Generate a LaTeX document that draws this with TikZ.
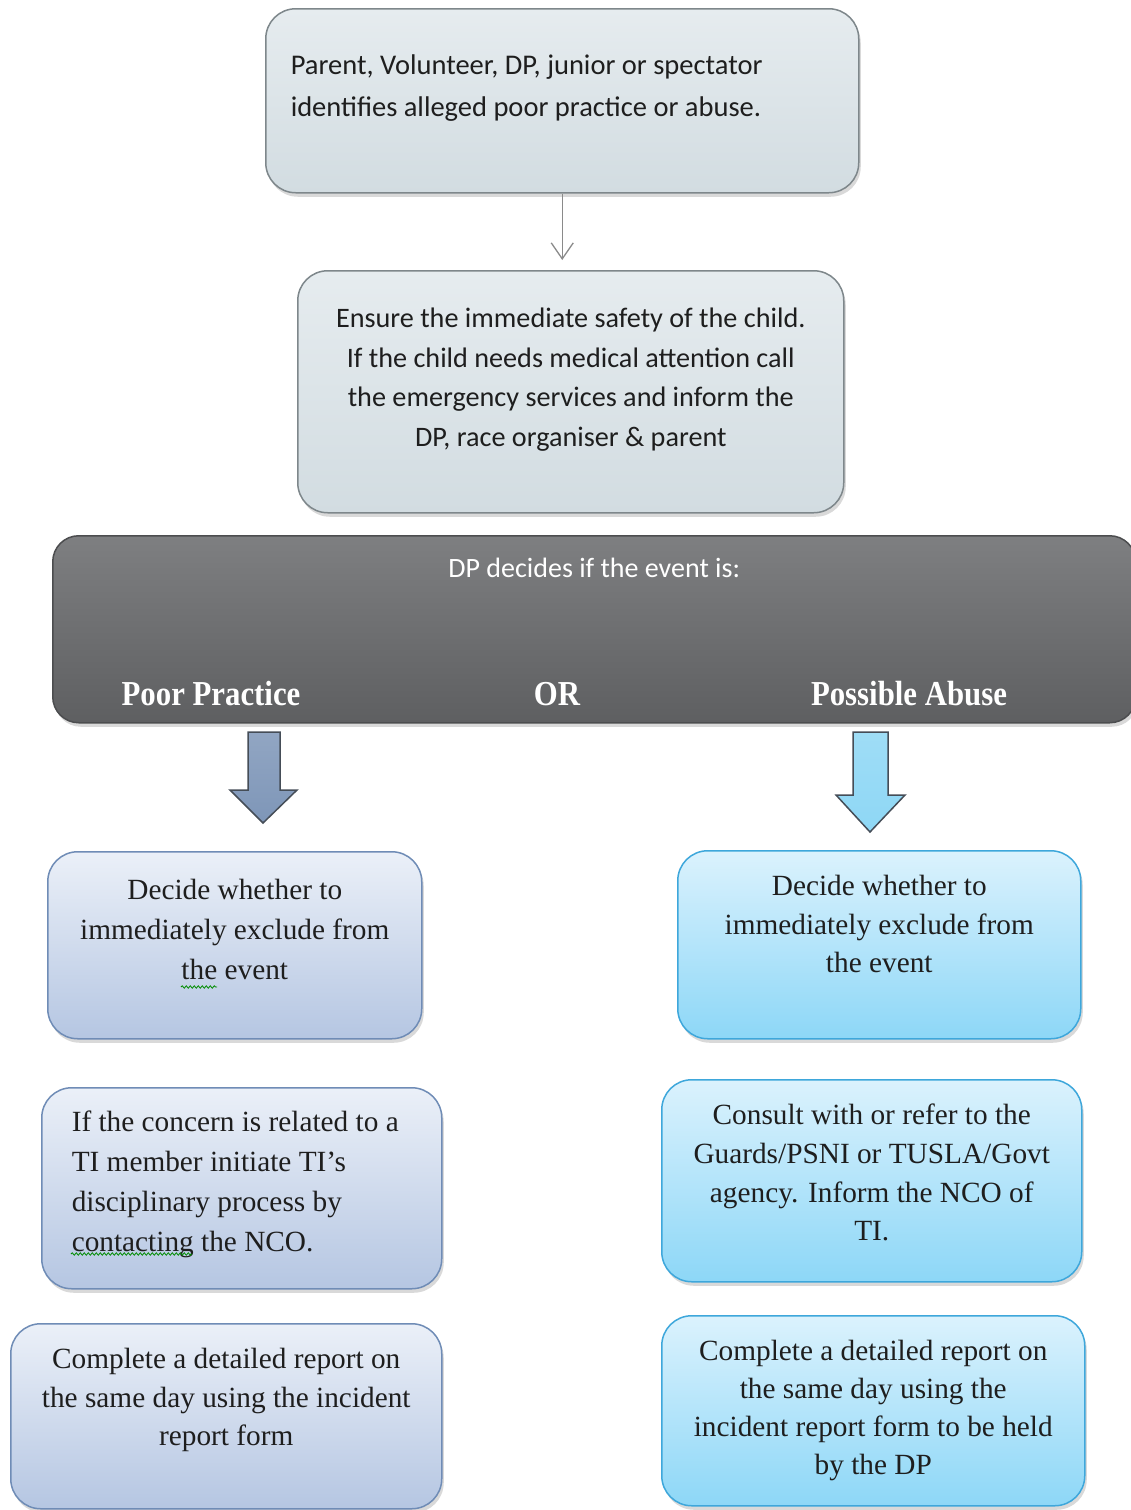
\documentclass[tikz,border=0pt]{standalone}
\usepackage{fontspec}
\usepackage{graphicx}
\setmainfont{Liberation Serif}
\newfontfamily\calfont{Carlito}
\usetikzlibrary{shadows,arrows.meta,decorations.pathmorphing,calc}
\definecolor{greytop}{HTML}{E6ECEF}
\definecolor{greybot}{HTML}{D2DCE1}
\definecolor{greyline}{HTML}{7E878B}
\definecolor{darktop}{HTML}{7E7F81}
\definecolor{darkbot}{HTML}{5E5F61}
\definecolor{darkline}{HTML}{4C4D4F}
\definecolor{lbtop}{HTML}{EBF0F8}
\definecolor{lbbot}{HTML}{B5C6E2}
\definecolor{lbline}{HTML}{6F8CB6}
\definecolor{cytop}{HTML}{DBF2FD}
\definecolor{cybot}{HTML}{8DD7F7}
\definecolor{cyline}{HTML}{3EA7DB}
\definecolor{txt}{HTML}{1E1E1E}
\definecolor{arrgrey}{HTML}{8A8A8A}
\definecolor{barl}{HTML}{7E96B8}
\definecolor{barr}{HTML}{8ED7F5}
\definecolor{barline}{HTML}{454D57}
\newcommand\boxtext[4]{\parbox[c][#2][t]{#1}{\vspace*{#3}#4}}
\begin{document}
\begin{tikzpicture}[x=1pt,y=-1pt,
  boxbase/.style={rounded corners=30pt, line width=1.5pt, inner sep=0pt, anchor=north west,
    drop shadow={opacity=0.3, shadow xshift=2pt, shadow yshift=-4pt}},
  greybox/.style={boxbase, top color=greytop, bottom color=greybot, draw=greyline, text=txt},
  darkbox/.style={boxbase, rounded corners=26pt, top color=darktop, bottom color=darkbot, draw=darkline, text=white},
  lbox/.style={boxbase, top color=lbtop, bottom color=lbbot, draw=lbline, text=txt},
  cbox/.style={boxbase, top color=cytop, bottom color=cybot, draw=cyline, text=txt},
  choice/.style={anchor=base, text=white, font=\fontsize{35}{40}\selectfont\bfseries, inner sep=0pt},
  thinarr/.style={draw=arrgrey, line width=1.3pt, -{Straight Barb[length=16pt,width=22pt,line width=1.3pt]}, shorten >=10pt},
  lblock/.style={top color=barl!85!white, bottom color=barl, draw=barline, line width=1.5pt, line join=miter},
  rblock/.style={top color=barr!85!white, bottom color=barr, draw=barline, line width=1.5pt, line join=miter},
  squig/.style={draw=green!55!black, line width=0.8pt, decorate, decoration={snake, amplitude=1.2pt, segment length=4pt}}
]
\useasboundingbox (0,0) rectangle (1131,1510);

% top box
\node[greybox, minimum width=593pt, minimum height=184pt] (n1) at (265,8)
 {\calfont\fontsize{28.5}{42}\selectfont\boxtext{543pt}{184pt}{36pt}{\raggedright\strut Parent, Volunteer, DP, junior or spectator\\ identifies alleged poor practice or abuse.}};

% second box
\node[greybox, minimum width=546pt, minimum height=242pt] (n2) at (297,270)
 {\calfont\fontsize{28.2}{39.7}\selectfont\boxtext{530pt}{242pt}{29pt}{\centering\strut Ensure the immediate safety of the child.\\ If the child needs medical attention call\\ the emergency services and inform the\\ DP, race organiser \& parent}};

\draw[thinarr] (n1.south) -- (n1.south |- n2.north);

% dark decision box
\node[darkbox, minimum width=1083pt, minimum height=187pt] (dp) at (52,535)
 {\calfont\fontsize{28}{30}\selectfont\boxtext{1000pt}{187pt}{21pt}{\centering\strut DP decides if the event is:}};
\node[choice] (pp) at (211,705) {\scalebox{0.88}[1]{Poor Practice}};
\node[choice] (or) at (557,705) {\scalebox{0.88}[1]{OR}};
\node[choice] (pa) at (909,705) {\scalebox{0.88}[1]{Possible Abuse}};

% block arrows
\coordinate (la) at (264,732);
\draw[lblock] ($(la)+(-16,0)$) -- ($(la)+(-16,58)$) -- ($(la)+(-34,58)$) -- ($(la)+(-1,91)$)
  -- ($(la)+(33,58)$) -- ($(la)+(16,58)$) -- ($(la)+(16,0)$) -- cycle;
\coordinate (ra) at (870,732);
\draw[rblock] ($(ra)+(-17,0)$) -- ($(ra)+(-17,63)$) -- ($(ra)+(-34,63)$) -- ($(ra)+(0,100)$)
  -- ($(ra)+(35,63)$) -- ($(ra)+(18,63)$) -- ($(ra)+(18,0)$) -- cycle;

% left column
\node[lbox, minimum width=374pt, minimum height=187pt] (l1) at (47,851)
 {\fontsize{29.3}{40}\selectfont\boxtext{360pt}{187pt}{20pt}{\centering\strut Decide whether to\\ immediately exclude from\\ the event}};
\node[lbox, minimum width=400pt, minimum height=201pt] (l2) at (41,1087)
 {\fontsize{29.3}{40}\selectfont\boxtext{340pt}{201pt}{16pt}{\raggedright\strut If the concern is related to a\\ TI member initiate TI's\\ disciplinary process by\\ contacting the NCO.}};
\node[lbox, minimum width=431pt, minimum height=185pt] (l3) at (10,1323)
 {\fontsize{29.3}{38.5}\selectfont\boxtext{425pt}{185pt}{18pt}{\centering\strut Complete a detailed report on\\ the same day using the incident\\ report form}};

% right column
\node[cbox, minimum width=403pt, minimum height=188pt] (r1) at (677,850)
 {\fontsize{29.3}{38.5}\selectfont\boxtext{390pt}{188pt}{18pt}{\centering\strut Decide whether to\\ immediately exclude from\\ the event}};
\node[cbox, minimum width=420pt, minimum height=202pt] (r2) at (661,1079)
 {\fontsize{29.3}{38.7}\selectfont\boxtext{410pt}{202pt}{18pt}{\centering\strut Consult with or refer to the\\ Guards/PSNI or TUSLA/Govt\\ agency. Inform the NCO of\\ TI.}};
\node[cbox, minimum width=423pt, minimum height=190pt] (r3) at (661,1315)
 {\fontsize{29.3}{38}\selectfont\boxtext{410pt}{190pt}{18pt}{\centering\strut Complete a detailed report on\\ the same day using the\\ incident report form to be held\\ by the DP}};

% spell-check squiggles
\draw[squig] (181,987) -- (217,987);
\draw[squig] (71,1254) -- (192,1254);
\end{tikzpicture}
\end{document}
